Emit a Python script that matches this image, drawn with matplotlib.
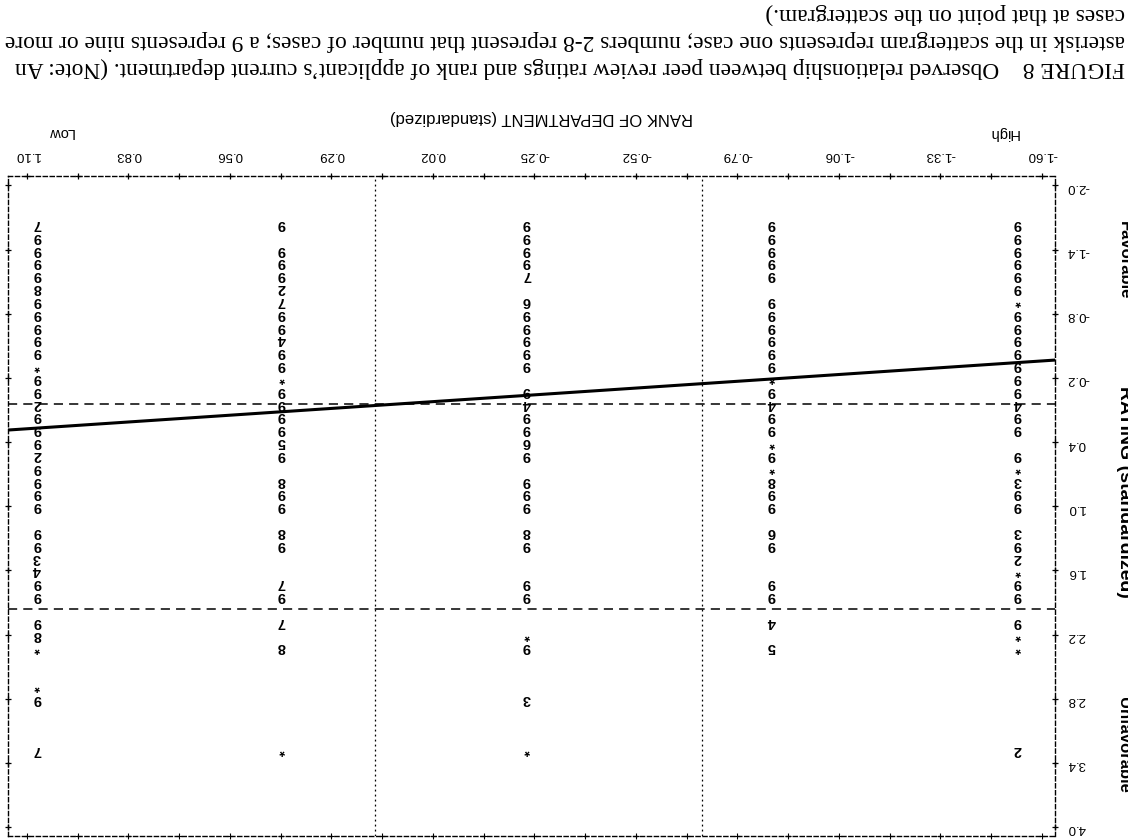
import numpy as np
import matplotlib.pyplot as plt

# The page is printed upside down, so every text is turned 180 degrees and
# both axes run backwards (high rank at the right, favorable rating at the top).

# standardized rank of the applicant's department, one printed column each
dept_rank = [1.073, 0.422, -0.230, -0.882, -1.536]

# standardized peer review rating (printed rows) and count of cases in that cell
# count: 1 -> "*", 2-8 -> that number, 9 -> nine or more
rating_a = [-1.64, -1.52, -1.40, -1.28, -1.16, -1.04, -0.92, -0.80, -0.68, -0.56, -0.44, -0.32,
            -0.20, -0.08, 0.04, 0.16, 0.28, 0.40, 0.52, 0.64, 0.76, 0.88, 1.00, 1.24, 1.36,
            1.48, 1.60, 1.72, 1.84, 2.08, 2.20, 2.32, 2.68, 2.80, 3.28]
count_a = [7, 9, 9, 9, 9, 8, 9, 9, 9, 9, 9, 1, 9, 9, 2, 9, 9, 9, 2, 9, 9, 9, 9, 9, 9,
           3, 4, 9, 9, 9, 8, 1, 1, 9, 7]

rating_b = [-1.64, -1.40, -1.28, -1.16, -1.04, -0.92, -0.80, -0.68, -0.56, -0.44, -0.32, -0.20,
            -0.08, 0.04, 0.16, 0.28, 0.40, 0.52, 0.76, 0.88, 1.00, 1.24, 1.36, 1.72, 1.84,
            2.08, 2.32, 3.28]
count_b = [9, 9, 9, 9, 2, 7, 9, 9, 4, 9, 9, 1, 9, 9, 9, 9, 5, 9, 8, 9, 9, 8, 9, 7, 9, 7, 8, 1]

rating_c = [-1.64, -1.52, -1.40, -1.28, -1.16, -0.92, -0.80, -0.68, -0.56, -0.44, -0.32, -0.08,
            0.04, 0.16, 0.28, 0.40, 0.52, 0.76, 0.88, 1.00, 1.24, 1.36, 1.72, 1.84, 2.20,
            2.32, 2.80, 3.28]
count_c = [9, 9, 9, 9, 7, 6, 9, 9, 9, 9, 9, 9, 4, 9, 9, 6, 9, 9, 9, 9, 8, 9, 9, 9, 1, 9, 3, 1]

rating_d = [-1.64, -1.52, -1.40, -1.28, -1.16, -0.92, -0.80, -0.68, -0.56, -0.44, -0.32, -0.20,
            -0.08, 0.04, 0.16, 0.28, 0.40, 0.52, 0.64, 0.76, 0.88, 1.00, 1.24, 1.36, 1.72,
            1.84, 2.08, 2.32]
count_d = [9, 9, 9, 9, 9, 9, 9, 9, 9, 9, 9, 1, 9, 4, 9, 9, 1, 9, 1, 8, 9, 9, 6, 9, 9, 9, 4, 5]

rating_e = [-1.64, -1.52, -1.40, -1.28, -1.16, -1.04, -0.92, -0.80, -0.68, -0.56, -0.44, -0.32,
            -0.20, -0.08, 0.04, 0.16, 0.28, 0.52, 0.64, 0.76, 0.88, 1.00, 1.24, 1.36, 1.48,
            1.60, 1.72, 1.84, 2.08, 2.20, 2.32, 3.28]
count_e = [9, 9, 9, 9, 9, 9, 1, 9, 9, 9, 9, 9, 9, 9, 4, 9, 9, 9, 1, 3, 9, 9, 3, 9, 2, 1,
           9, 9, 9, 1, 1, 2]

x_ticks = [-1.60, -1.33, -1.06, -0.79, -0.52, -0.25, 0.02, 0.29, 0.56, 0.83, 1.10]
x_labels = ["-1.60", "-1.33", "-1.06", "-0.79", "-0.52", "-0.25", "0.02", "0.29", "0.56", "0.83", "1.10"]
y_ticks = [-2.0, -1.4, -0.8, -0.2, 0.4, 1.0, 1.6, 2.2, 2.8, 3.4, 4.0]
y_labels = ["-2.0", "-1.4", "-0.8", "-0.2", "0.4", "1.0", "1.6", "2.2", "2.8", "3.4", "4.0"]

# reference lines drawn on the scattergram
split_rank = [0.174, -0.696]
split_rating = [0.04, 1.96]
fit_intercept = 0.017
fit_slope = 0.235

caption = [
    "FIGURE 8    Observed relationship between peer review ratings and rank of applicant\u2019s current department. (Note: An",
    "asterisk in the scattergram represents one case; numbers 2-8 represent that number of cases; a 9 represents nine or more",
    "cases at that point on the scattergram.)",
]

columns = [(rating_a, count_a), (rating_b, count_b), (rating_c, count_c),
           (rating_d, count_d), (rating_e, count_e)]

x_lo, x_hi = 1.150, -1.635
y_lo, y_hi = 4.084, -2.089

fig = plt.figure(figsize=(11.28, 8.4), dpi=100)
ax = fig.add_axes([0.0071, 0.0048, 0.9282, 0.7857])
ax.set_xlim(x_lo, x_hi)
ax.set_ylim(y_lo, y_hi)

for sp in ax.spines.values():
    sp.set_linestyle((0, (3, 2)))
    sp.set_linewidth(1.0)

ax.xaxis.tick_top()
ax.yaxis.tick_right()
ax.set_xticks(x_ticks)
ax.set_xticklabels(x_labels, rotation=180, fontsize=9.5, family="Liberation Sans")
ax.set_yticks(y_ticks)
ax.set_yticklabels(y_labels, rotation=180, fontsize=9.5, family="Liberation Sans")
ax.tick_params(axis="x", length=0, pad=10.5)
ax.tick_params(axis="y", length=0, pad=8.5)

# "+" marks printed along the frame
plus_x = np.arange(-1.60, 1.11, 0.135)
ax.plot(plus_x, [y_hi] * len(plus_x), "k+", ms=5, mew=0.9, clip_on=False)
ax.plot(plus_x, [y_lo] * len(plus_x), "k+", ms=4, mew=0.8, clip_on=False)
ax.plot([x_lo] * len(y_ticks), y_ticks, "k+", ms=5, mew=0.9, clip_on=False)
ax.plot([x_hi] * len(y_ticks), y_ticks, "k+", ms=5, mew=0.9, clip_on=False)

for x in split_rank:
    ax.axvline(x, color="k", lw=0.9, ls=(0, (1.5, 2.5)))
for y in split_rating:
    ax.axhline(y, color="k", lw=1.1, ls=(0, (6, 4)))

xs = np.array([x_lo, x_hi])
ax.plot(xs, fit_intercept + fit_slope * xs, color="k", lw=2.2)

for rank, (ratings, counts) in zip(dept_rank, columns):
    for r, c in zip(ratings, counts):
        sym = "*" if c == 1 else str(min(c, 9))
        ax.text(rank, r, sym, rotation=180, ha="center", va="center",
                fontsize=10.5, fontweight="bold", family="Liberation Sans", color="k")

# axis titles
fig.text(541 / 1128, 1 - 118 / 840, "RANK OF DEPARTMENT (standardized)", rotation=180,
         ha="center", va="center", fontsize=12, family="Liberation Sans")
fig.text(1004 / 1128, 1 - 133 / 840, "High", rotation=180, ha="center", va="center",
         fontsize=10.5, family="Liberation Sans")
fig.text(60 / 1128, 1 - 132 / 840, "Low", rotation=180, ha="center", va="center",
         fontsize=10.5, family="Liberation Sans")
fig.text(1124 / 1128, 1 - 260 / 840, "Favorable", rotation=270, ha="center", va="center",
         fontsize=12, fontweight="bold", family="Liberation Sans")
fig.text(1124 / 1128, 1 - 492 / 840, "RATING (standardized)", rotation=270, ha="center",
         va="center", fontsize=14, fontweight="bold", family="Liberation Sans")
fig.text(1124 / 1128, 1 - 745 / 840, "Unfavorable", rotation=270, ha="center", va="center",
         fontsize=12, fontweight="bold", family="Liberation Sans")

# caption, upside down
for i, line in enumerate(caption):
    fig.text(1125 / 1128, 1 - (68 - 27 * i) / 840, line, rotation=180, rotation_mode="anchor",
             ha="left", va="center", fontsize=16.8, family="Liberation Serif")

fig.savefig("out.png", dpi=100)
